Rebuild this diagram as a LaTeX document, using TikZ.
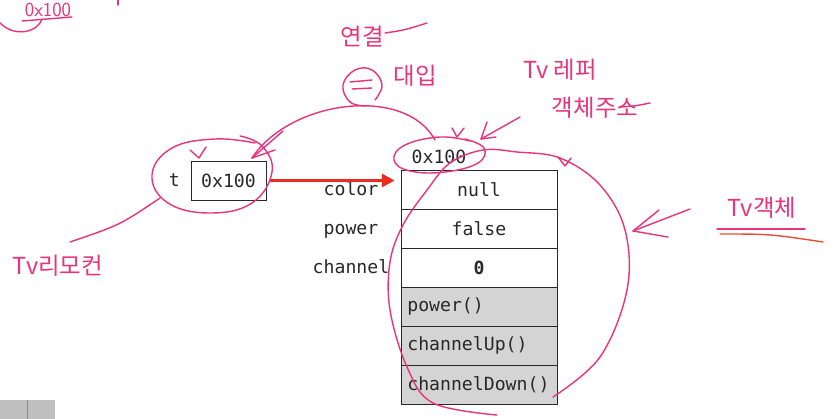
\documentclass[tikz,border=0pt]{standalone}
\usepackage{fontspec}
\setmonofont{DejaVu Sans Mono}
\newfontfamily\hangul{Noto Sans CJK KR}
\usepackage{tikz}
\usetikzlibrary{positioning,arrows.meta}
\definecolor{pen}{RGB}{232,52,122}
\definecolor{underpen}{RGB}{236,78,52}
\definecolor{arrowred}{RGB}{236,44,30}
\definecolor{cellgray}{RGB}{212,212,212}
\definecolor{ink}{RGB}{40,40,40}

\begin{document}
\begin{tikzpicture}[x=0.03cm,y=-0.03cm,
        every node/.style={font=\ttfamily\fontsize{15.5}{15.5}\selectfont,text=ink},
        cell/.style={draw=ink,thick,minimum width=4.68cm,minimum height=1.17cm,inner sep=0pt},
        pen/.style={draw=pen,line width=1.2pt,line cap=round,line join=round},
        hand/.style={font=\hangul\fontsize{20}{20}\selectfont,text=pen,inner sep=0pt}]
            \useasboundingbox[fill=white] (0,0) rectangle (836,419);

            % object in memory
            \foreach \val [count=\i] in {null,false,\textbf{0}} {
                \node[cell] (f\i) at (479,{150.5+39*\i}) {\val};
            }
            \foreach \val [count=\i] in {power(),channelUp(),channelDown()} {
                \node[cell,fill=cellgray,text width=4.3cm,align=left] (m\i) at (479,{267.5+39*\i}) {\val};
            }
            \foreach \name [count=\i] in {color,power,channel} {
                \node[anchor=base] (l\i) at (351,{156+39*\i}) {\name};
            }
            \node (addr) at (439,157) {0x100};

            % reference variable
            \node[cell,minimum width=2.25cm] (ptr) at (228.5,180.5) {0x100};
            \node[left=0.2cm of ptr] (t) {t};
            \draw[arrowred,line width=3pt,-{Triangle[length=11pt,width=11pt]},shorten <=3pt,shorten >=5pt] (ptr.east) -- (ptr.east -| f1.west);

            % handwriting
            \node[hand] (remote) at (58,266) {Tv리모컨};
            \node[hand] (link) at (362,37) {연결};
            \node[hand] (assign) at (415,76) {대입};
            \node[hand] (ref) at (560,70) {Tv 레퍼};
            \node[hand] (addrnote) at (595,108) {객체주소};
            \node[hand] (objnote) at (762,208) {Tv객체};
            \node[hand,font=\sffamily\fontsize{17}{17}\selectfont] (corner) at (48,10) {0x100};

            % circle round t
            \draw[pen] plot[smooth,tension=0.7] coordinates {(255,143) (215,139) (172,148) (152,175) (168,203) (210,213) (252,203) (272,172) (262,146) (240,136)};
            \draw[pen] (160,198) .. controls (120,225) .. (70,242);
            \draw[pen] (190,150) -- (199,158) -- (206,147);
            % link to the object
            \draw[pen] (252,158) .. controls (290,100) and (405,85) .. (435,140);
            \draw[pen] (252,158) -- (283,131);
            \draw[pen] (252,158) -- (275,150);
            % = sign
            \draw[pen] plot[smooth,tension=0.7] coordinates {(375,100) (382,85) (372,70) (355,70) (343,85) (350,102) (366,106)};
            \draw[pen] (350,82) -- (372,80);
            \draw[pen] (352,89) -- (372,88);
            \draw[pen] (385,33) .. controls (405,30) .. (427,23);
            % circle round the address
            \draw[pen] plot[smooth,tension=0.7] coordinates {(470,141) (440,137) (405,145) (394,160) (410,171) (445,172) (478,163) (484,148) (465,139)};
            \draw[pen] (452,128) -- (457,137) -- (464,128);
            \draw[pen] (520,117) -- (481,139);
            \draw[pen] (481,139) -- (487,122);
            \draw[pen] (481,139) -- (496,137);
            \draw[pen] (620,107) .. controls (635,106) .. (650,103);
            % circle round the object
            \draw[pen] plot[smooth,tension=0.6] coordinates {(497,415) (433,403) (407,367) (390,310) (390,262) (403,225) (427,190) (450,163) (483,150) (517,152) (560,158) (600,185) (625,230) (627,290) (600,357) (553,397)};
            \draw[pen] (558,157) -- (565,166) -- (571,158);
            \draw[pen] (690,209) -- (633,231);
            \draw[pen] (659,210) -- (633,231) -- (668,237);
            % underlines
            \draw[pen] (717,229) -- (805,229);
            \draw[underpen,line width=1.2pt,line cap=round] (720,234) .. controls (770,234) .. (823,242);
            \draw[pen] (22,21) -- (72,17);
            \draw[pen] (0,23) .. controls (15,38) and (38,32) .. (42,19);
            \draw[pen] (118,0) -- (118,5);

            % toolbar
            \fill[black!25] (0,400) rectangle (55,419);
            \draw[black!45] (27,400) -- (27,419);
\end{tikzpicture}
\end{document}
